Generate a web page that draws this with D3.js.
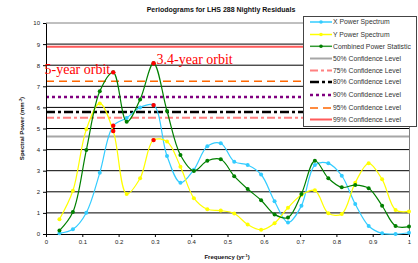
<!DOCTYPE html>
<html><head><meta charset="utf-8">
<script src="https://cdn.jsdelivr.net/npm/d3@7"></script>
<style>body{margin:0;background:#fff}svg{display:block}</style>
</head><body><svg id="c" width="418" height="263"></svg>
<script>
const freq = [1,2,3,4,5,6,7,8,9,10,11,12,13,14,15,16,17,18,19,20,21,22,23,24,25,26,27].map(k => k/27);
const xPower = [0.03,0.22,1.01,2.9,5.13,5.5,6.0,6.11,3.7,2.43,3.05,4.16,4.3,3.43,3.27,2.82,1.55,0.54,1.34,3.27,3.35,2.76,1.42,0.38,0.03,0.0,0.06];
const yPower = [0.7,2.05,4.96,6.19,4.88,1.9,2.64,4.45,4.38,3.19,1.7,1.17,1.11,0.97,0.45,0.2,0.51,1.25,1.85,2.07,0.98,0.95,2.43,3.35,2.59,1.14,1.07];
const combined = [0.16,1.04,3.98,6.76,7.66,5.32,6.38,8.09,5.83,3.74,2.99,3.47,3.54,2.74,2.13,1.6,0.93,0.78,1.9,3.47,2.64,2.21,2.32,2.17,1.34,0.38,0.35];
const highlightIdx = [4,7];
const confLevels = [4.62,5.51,5.78,6.49,7.24,8.88];
const confLabels = ["50% Confidence Level","75% Confidence Level","80% Confidence Level","90% Confidence Level","95% Confidence Level","99% Confidence Level"];
const seriesLabels = ["X Power Spectrum","Y Power Spectrum","Combined Power Statistic"];
const xTicks = [0,0.1,0.2,0.3,0.4,0.5,0.6,0.7,0.8,0.9,1];
const yTicks = [0,1,2,3,4,5,6,7,8,9,10];
const annotations = [{text:"5-year orbit", f:5/27, v:7.66},{text:"3.4-year orbit", f:8/27, v:8.09}];

const svg = d3.select("#c");
const m = {l:46, r:409, t:23, b:234};
const x = d3.scaleLinear().domain([0,1]).range([m.l, m.r]);
const y = d3.scaleLinear().domain([0,10]).range([m.b, m.t]);

svg.append("g").selectAll("line").data(yTicks.filter(d=>d>0)).join("line")
  .attr("x1", m.l).attr("x2", m.r).attr("y1", d=>y(d)).attr("y2", d=>y(d))
  .attr("stroke", d=> d===10 ? "#808080" : "#000").attr("stroke-width", 1);
svg.append("line").attr("x1", m.r+0.5).attr("x2", m.r+0.5).attr("y1", m.t).attr("y2", m.b).attr("stroke","#808080");

const confStyles = [
  {c:"#a6a6a6", w:2, d:null},
  {c:"#ff8080", w:2, d:"8,3,3,3"},
  {c:"#000000", w:2.5, d:"9,3,3,3"},
  {c:"#800080", w:2.5, d:"3,3"},
  {c:"#ff6600", w:1.5, d:"8,5"},
  {c:"#ff5a5a", w:2, d:null}
];
svg.append("g").selectAll("line").data(confLevels).join("line")
  .attr("x1", m.l).attr("x2", m.r).attr("y1", d=>y(d)).attr("y2", d=>y(d))
  .attr("stroke", (d,i)=>confStyles[i].c).attr("stroke-width",(d,i)=>confStyles[i].w)
  .attr("stroke-dasharray",(d,i)=>confStyles[i].d);

const xa = svg.append("g").attr("transform",`translate(0,${m.b})`)
  .call(d3.axisBottom(x).tickValues(xTicks).tickFormat(d=>d===0||d===1?d3.format("d")(d):d3.format(".1f")(d)).tickSize(3).tickSizeOuter(0));
const ya = svg.append("g").attr("transform",`translate(${m.l},0)`)
  .call(d3.axisLeft(y).tickValues(yTicks).tickSize(3).tickSizeOuter(0));
[xa,ya].forEach(a=>{a.select(".domain").attr("stroke","#000");a.selectAll("line").attr("stroke","#000");
  a.selectAll("text").attr("font-family","Liberation Sans, Arial").attr("font-size",6).attr("fill","#222");});
ya.selectAll("text").attr("x",-6);
xa.selectAll("text").attr("y",6);

const series = [
  {vals:xPower, c:"#33ccff", w:1.2},
  {vals:yPower, c:"#ffff00", w:1.2},
  {vals:combined, c:"#008000", w:1.2}
];
const line = d3.line().x(d=>x(d[0])).y(d=>y(d[1])).curve(d3.curveCatmullRom.alpha(0.5));
series.forEach(s=>{
  const pts = freq.map((f,i)=>[f, s.vals[i]]);
  svg.append("path").attr("d", line(pts)).attr("fill","none").attr("stroke", s.c).attr("stroke-width", s.w);
  svg.append("g").selectAll("circle").data(pts).join("circle")
    .attr("cx", d=>x(d[0])).attr("cy", d=>y(d[1])).attr("r", 2).attr("fill", s.c);
});
series.forEach(s=>{
  svg.append("g").selectAll("circle").data(highlightIdx).join("circle")
    .attr("cx", i=>x(freq[i])).attr("cy", i=>y(s.vals[i])).attr("r", 2.2).attr("fill","#ff0000");
});

svg.append("text").attr("x", x(annotations[0].f)-3).attr("y", y(annotations[0].v)+1.5).attr("text-anchor","end")
  .attr("font-family","Liberation Serif, Times New Roman").attr("font-size",14).attr("fill","#ff0000").text(annotations[0].text);
svg.append("text").attr("x", x(annotations[1].f)+3).attr("y", y(annotations[1].v)+0.5)
  .attr("font-family","Liberation Serif, Times New Roman").attr("font-size",14).attr("fill","#ff0000").text(annotations[1].text);

svg.append("text").attr("x",221).attr("y",12).attr("text-anchor","middle")
  .attr("font-family","Liberation Sans, Arial").attr("font-weight","bold").attr("font-size",7).attr("fill","#111")
  .text("Periodograms for LHS 288 Nightly Residuals");
const xl = svg.append("text").attr("x",227).attr("y",259).attr("text-anchor","middle")
  .attr("font-family","Liberation Sans, Arial").attr("font-weight","bold").attr("font-size",6).attr("fill","#111");
xl.append("tspan").text("Frequency (yr");
xl.append("tspan").attr("baseline-shift","super").attr("font-size",4).text("-1");
xl.append("tspan").text(")");
const yl = svg.append("text").attr("transform",`translate(24,${(m.t+m.b)/2}) rotate(-90)`).attr("text-anchor","middle")
  .attr("font-family","Liberation Sans, Arial").attr("font-weight","bold").attr("font-size",6).attr("fill","#111");
yl.append("tspan").text("Spectral Power (mm");
yl.append("tspan").attr("baseline-shift","super").attr("font-size",4).text("-2");
yl.append("tspan").text(")");

const lg = svg.append("g");
lg.append("rect").attr("x",303.5).attr("y",16.5).attr("width",113).attr("height",110)
  .attr("fill","#fff").attr("stroke","#444").attr("stroke-width",1);
const legendItems = [
  ...series.map((s,i)=>({label:seriesLabels[i], c:s.c, w:1.2, d:null, marker:true})),
  ...confLabels.map((l,i)=>({label:l, c:confStyles[i].c, w:confStyles[i].w, d:confStyles[i].d, marker:false}))
];
const ly = [22,34.5,46.3,58.5,70.5,82,95,108,119.5];
legendItems.forEach((it,i)=>{
  const yy = ly[i];
  lg.append("line").attr("x1",310).attr("x2",332).attr("y1",yy).attr("y2",yy)
    .attr("stroke", it.c==="#008000" ? "#339933" : it.c).attr("stroke-width", it.marker?1.5:it.w).attr("stroke-dasharray", it.d);
  if(it.marker) lg.append("circle").attr("cx",321).attr("cy",yy).attr("r",1.8).attr("fill",it.c);
  lg.append("text").attr("x",333).attr("y",yy+2.3).attr("font-family","Liberation Sans, Arial")
    .attr("font-size",6.8).attr("fill","#333").text(it.label);
});
</script></body></html>
